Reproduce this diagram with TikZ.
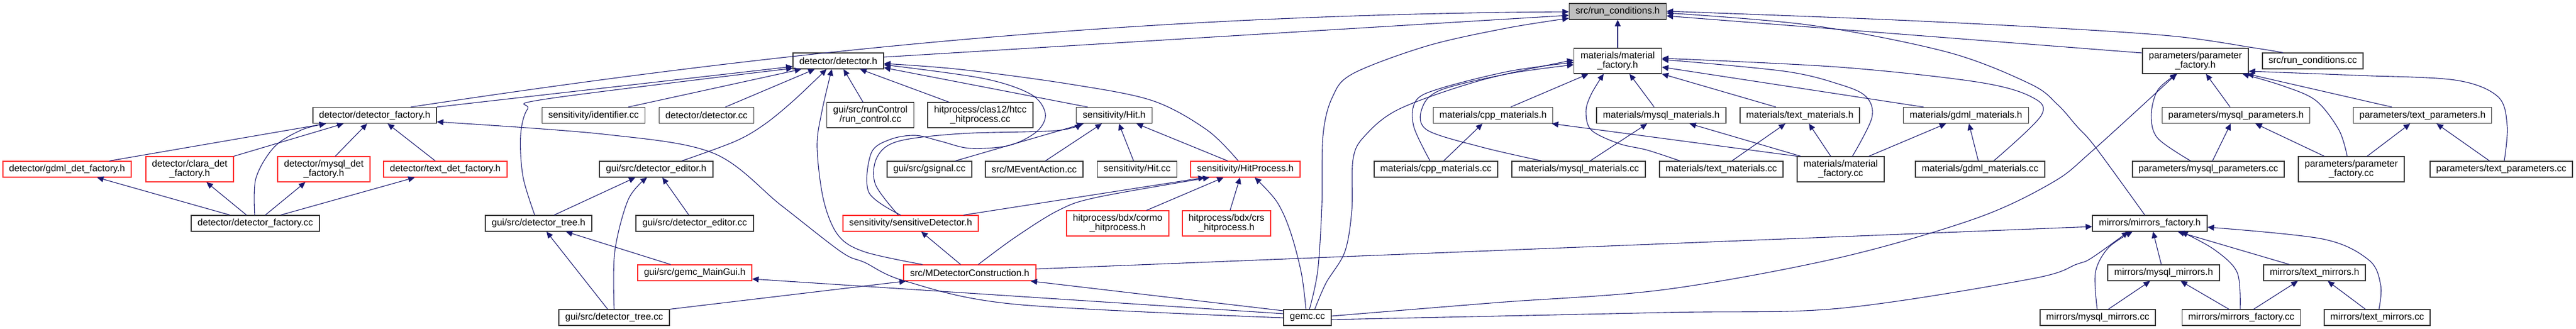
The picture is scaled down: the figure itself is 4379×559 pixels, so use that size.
\documentclass[tikz,border=0pt]{standalone}
\usepackage{fontspec}
\setmainfont{Liberation Sans}
\usetikzlibrary{arrows.meta}
\definecolor{edgeblue}{HTML}{191970}
\definecolor{nodered}{HTML}{FF2A2A}
\definecolor{rootgray}{HTML}{BFBFBF}
\newcommand{\nodefont}{\fontsize{16}{16}\selectfont}
\tikzset{
  nd/.style={draw=black!78, line width=1.2pt, fill=white, inner sep=0pt, minimum height=27pt, align=center, font=\nodefont},
  rd/.style={nd, draw=nodered},
  gr/.style={nd, fill=rootgray},
  two/.style={minimum height=43pt},
  edge/.style={draw=edgeblue, line width=1.1pt, -{Triangle[length=11pt,width=10pt]}},
  every plot/.style={smooth, tension=0.55}
}
\begin{document}
\begin{tikzpicture}[x=1pt,y=-1pt]
\useasboundingbox (0,0) rectangle (4379,559);
% row 1
\node[gr, minimum width=165pt] (rch) at (2750,19.5) {src/run\_conditions.h};
% row 2
\node[nd, minimum width=154pt] (deth) at (1425,103.5) {detector/detector.h};
\node[nd, two, minimum width=149pt] (matfh) at (2750,103.5) {materials/material\\\_factory.h};
\node[nd, two, minimum width=180pt] (parfh) at (3732,103.5) {parameters/parameter\\\_factory.h};
\node[nd, minimum width=171pt] (rccc) at (3931.5,103.5) {src/run\_conditions.cc};
% row 3
\node[nd, minimum width=210pt] (detfh) at (637,196) {detector/detector\_factory.h};
\node[nd, minimum width=175pt] (ident) at (1009,196) {sensitivity/identifier.cc};
\node[nd, minimum width=161pt] (detcc) at (1201,196) {detector/detector.cc};
\node[nd, two, minimum width=148pt] (runctl) at (1479.6,195.5) {gui/src/runControl\\/run\_control.cc};
\node[nd, two, minimum width=179pt] (htcc) at (1666.5,195.5) {hitprocess/clas12/htcc\\\_hitprocess.cc};
\node[nd, minimum width=129pt] (hith) at (1894,196) {sensitivity/Hit.h};
\node[nd, minimum width=203pt] (cpph) at (2538,196) {materials/cpp\_materials.h};
\node[nd, minimum width=220pt] (mysqlh) at (2824,196) {materials/mysql\_materials.h};
\node[nd, minimum width=203pt] (texth) at (3059.5,196) {materials/text\_materials.h};
\node[nd, minimum width=213pt] (gdmlh) at (3342,196) {materials/gdml\_materials.h};
\node[nd, minimum width=251pt] (mparh) at (3801,196) {parameters/mysql\_parameters.h};
\node[nd, minimum width=235pt] (tparh) at (4118,196) {parameters/text\_parameters.h};
% row 4
\node[rd, minimum width=218pt] (gdmldf) at (114,287.5) {detector/gdml\_det\_factory.h};
\node[rd, two, minimum width=149pt] (claradf) at (322.5,287.5) {detector/clara\_det\\\_factory.h};
\node[rd, two, minimum width=157pt] (mysqldf) at (550.5,287.5) {detector/mysql\_det\\\_factory.h};
\node[rd, minimum width=210pt] (textdf) at (757,287.5) {detector/text\_det\_factory.h};
\node[nd, minimum width=193pt] (edith) at (1115.5,287.5) {gui/src/detector\_editor.h};
\node[nd, minimum width=144pt] (gsig) at (1580,287.5) {gui/src/gsignal.cc};
\node[nd, minimum width=166pt] (mevt) at (1758,287.5) {src/MEventAction.cc};
\node[nd, minimum width=135pt] (hitcc) at (1933,287.5) {sensitivity/Hit.cc};
\node[rd, minimum width=186pt] (hph) at (2117,287.5) {sensitivity/HitProcess.h};
\node[nd, minimum width=210pt] (cppcc) at (2441,287.5) {materials/cpp\_materials.cc};
\node[nd, minimum width=227pt] (mysqlcc) at (2683.5,287.5) {materials/mysql\_materials.cc};
\node[nd, minimum width=210pt] (textcc) at (2926,287.5) {materials/text\_materials.cc};
\node[nd, two, minimum width=148pt] (matfcc) at (3129,287.5) {materials/material\\\_factory.cc};
\node[nd, minimum width=220pt] (gdmlcc) at (3366,287.5) {materials/gdml\_materials.cc};
\node[nd, minimum width=258pt] (mparcc) at (3754,287.5) {parameters/mysql\_parameters.cc};
\node[nd, two, minimum width=180pt] (parfcc) at (3997,287.5) {parameters/parameter\\\_factory.cc};
\node[nd, minimum width=242pt] (tparcc) at (4252,287.5) {parameters/text\_parameters.cc};
% row 5
\node[nd, minimum width=218pt] (detfcc) at (434,379.5) {detector/detector\_factory.cc};
\node[nd, minimum width=181pt] (treeh) at (915.5,379.5) {gui/src/detector\_tree.h};
\node[nd, minimum width=200pt] (editcc) at (1181,379.5) {gui/src/detector\_editor.cc};
\node[rd, minimum width=230pt] (sdh) at (1548,379.5) {sensitivity/sensitiveDetector.h};
\node[rd, two, minimum width=174pt] (cormo) at (1900,379.5) {hitprocess/bdx/cormo\\\_hitprocess.h};
\node[rd, two, minimum width=150pt] (crs) at (2085,379.5) {hitprocess/bdx/crs\\\_hitprocess.h};
\node[nd, minimum width=195pt] (mirfh) at (3654.5,379.5) {mirrors/mirrors\_factory.h};
% row 6
\node[rd, minimum width=194pt] (guih) at (1181,463.5) {gui/src/gemc\_MainGui.h};
\node[rd, minimum width=225pt] (mdch) at (1648.5,463.5) {src/MDetectorConstruction.h};
\node[nd, minimum width=190pt] (mmirh) at (3678,463.5) {mirrors/mysql\_mirrors.h};
\node[nd, minimum width=173pt] (tmirh) at (3934.5,463.5) {mirrors/text\_mirrors.h};
% row 7
\node[nd, minimum width=188pt] (treecc) at (1044,539.5) {gui/src/detector\_tree.cc};
\node[nd, minimum width=81pt] (gemc) at (2222.5,539.5) {gemc.cc};
\node[nd, minimum width=196pt] (mmircc) at (3566,539.5) {mirrors/mysql\_mirrors.cc};
\node[nd, minimum width=201pt] (mircc) at (3810,539.5) {mirrors/mirrors\_factory.cc};
\node[nd, minimum width=180pt] (tmircc) at (4041,539.5) {mirrors/text\_mirrors.cc};

% ---- edges into run_conditions.h
\draw[edge] (698,0 |- detfh.north) .. controls (1300,91) and (1900,25) .. (rch.west |- 0,20);
\draw[edge] (deth.east |- 0,97) -- (rch.west |- 0,26);
\draw[edge] plot coordinates {(2226,0 |- gemc.north) (2240,460) (2247,350) (2249,230) (2265,165) (2300,125) (2426,78) (2560,48) (rch.west |- 0,31)};
\draw[edge] (matfh.north) -- (rch.south);
\draw[edge] plot coordinates {(3881,0 |- rccc.north) (3836,82) (3700,62) (3500,48) (3200,33) (rch.east |- 0,19)};
\draw[edge] (parfh.west |- 0,90) -- (rch.east |- 0,27);
\draw[edge] plot coordinates {(3646,0 |- mirfh.north) (3562,250) (3530,214) (3498,178) (3452,143) (3312,89) (3079,43) (rch.east |- 0,22)};

% ---- edges into detector.h
\draw[edge] (detfh.north east) -- (deth.west |- 0,113);
\draw[edge] plot coordinates {(909,0 |- treeh.north) (889,300) (885,230) (897,185) (930,168) (deth.west |- 0,116)};
\draw[edge] (1068,0 |- ident.north) -- (1362,0 |- deth.south);
\draw[edge] (1233,0 |- detcc.north) -- (1385,0 |- deth.south);
\draw[edge] plot coordinates {(1159,0 |- edith.north) (1250,240) (1300,211) (1350,170) (1405,0 |- deth.south)};
\draw[edge] plot coordinates {(1568,0 |- mdch.north) (1470,428) (1425,400) (1400,340) (1389,250) (1397,190) (1414,0 |- deth.south)};
\draw[edge] (1467,0 |- runctl.north) -- (1434,0 |- deth.south);
\draw[edge] (1613,0 |- htcc.north) -- (1462,0 |- deth.south);
\draw[edge] (1849,0 |- hith.north) -- (deth.east |- 0,115);
\draw[edge] plot coordinates {(2105,0 |- hph.north) (2052,221) (1959,171) (1819,143) (1633,118) (deth.east |- 0,108)};
\draw[edge] plot coordinates {(1531,0 |- sdh.north) (1477,327) (1481,260) (1513,237) (1556,230) (1599,240) (1649,252) (1716,247) (1763,223) (1777,193) (1752,160) (1670,133) (deth.east |- 0,110)};

% ---- detector factory group
\draw[edge] (186,0 |- gdmldf.north) -- (554,0 |- detfh.south);
\draw[edge] (claradf.north east) -- (584,0 |- detfh.south);
\draw[edge] plot coordinates {(433,0 |- detfcc.north) (435,303) (466,250) (512,221) (554,0 |- detfh.south)};
\draw[edge] (570,0 |- mysqldf.north) -- (624,0 |- detfh.south);
\draw[edge] (740,0 |- textdf.north) -- (659,0 |- detfh.south);
\draw[edge] (391,0 |- detfcc.north) -- (165,0 |- gdmldf.south);
\draw[edge] (419,0 |- detfcc.north) -- (351,0 |- claradf.south);
\draw[edge] (451,0 |- detfcc.north) -- (519,0 |- mysqldf.south);
\draw[edge] (477,0 |- detfcc.north) -- (705,0 |- textdf.south);

% ---- gui group
\draw[edge] (942,0 |- treeh.north) -- (1080,0 |- edith.south);
\draw[edge] plot coordinates {(1044,0 |- treecc.north) (1045,428) (1068,339) (1100,0 |- edith.south)};
\draw[edge] (1171,0 |- editcc.north) -- (1126,0 |- edith.south);
\draw[edge] (1033,0 |- treecc.north) -- (929,0 |- treeh.south);
\draw[edge] (1140,0 |- guih.north) -- (962,0 |- treeh.south);
\draw[edge] (gemc.west |- 0,533) -- (guih.east |- 0,474);
\draw[edge] (treecc.north east) -- (1540,0 |- mdch.south);
\draw[edge] plot coordinates {(gemc.west |- 0,540) (1726,517) (1540,478) (1470,446) (1430,428) (1328,349) (1212,260) (1026,228) (detfh.east |- 0,207)};
\draw[edge] (gemc.west |- 0,528) -- (1752,0 |- mdch.south);

% ---- MDetectorConstruction / Hit / HitProcess
\draw[edge] (1633,0 |- mdch.north) -- (1566,0 |- sdh.south);
\draw[edge] plot coordinates {(1663,0 |- mdch.north) (1726,403) (1800,357) (1866,335) (2056,0 |- hph.south)};
\draw[edge] (1638,0 |- sdh.north) -- (2048,0 |- hph.south);
\draw[edge] (mdch.east |- 0,457) -- (mirfh.west |- 0,385);
\draw[edge] plot coordinates {(2220,0 |- gemc.north) (2212,463) (2193,392) (2170,342) (2133,0 |- hph.south)};
\draw[edge] (1624,0 |- gsig.north) -- (1842,0 |- hith.south);
\draw[edge] plot coordinates {(1527,0 |- sdh.north) (1488,313) (1491,267) (1527,240) (1634,227) (1795,222) (1838,0 |- hith.south)};
\draw[edge] (1777,0 |- mevt.north) -- (1873,0 |- hith.south);
\draw[edge] (1927,0 |- hitcc.north) -- (1902,0 |- hith.south);
\draw[edge] (2087,0 |- hph.north) -- (1932,0 |- hith.south);
\draw[edge] (1949,0 |- cormo.north) -- (2080,0 |- hph.south);
\draw[edge] (2091,0 |- crs.north) -- (2108,0 |- hph.south);

% ---- gemc.cc long edges
\draw[edge] plot coordinates {(gemc.east |- 0,537) (2546,514) (2830,492) (3126,438) (3359,371) (3489,310) (3556,257) (3700,0 |- parfh.south)};
\draw[edge] plot coordinates {(gemc.east |- 0,543) (2830,531) (3126,524) (3452,474) (3530,449) (3556,438) (3618,0 |- mirfh.south)};
\draw[edge] plot coordinates {(2235,0 |- gemc.north) (2254,481) (2286,428) (2298,357) (2300,271) (2319,232) (2379,185) (2519,136) (matfh.west |- 0,102)};

% ---- materials
\draw[edge] (2568,0 |- cpph.north) -- (2700,0 |- matfh.south);
\draw[edge] (2812,0 |- mysqlh.north) -- (2770,0 |- matfh.south);
\draw[edge] (3019,0 |- texth.north) -- (matfh.south east);
\draw[edge] (3270,0 |- gdmlh.north) -- (matfh.east |- 0,114);
\draw[edge] plot coordinates {(3149,0 |- matfcc.north) (3182,200) (3172,164) (3126,143) (3033,121) (matfh.east |- 0,101)};
\draw[edge] plot coordinates {(3389,0 |- gdmlcc.north) (3470,196) (3452,164) (3359,139) (3126,114) (matfh.east |- 0,99)};
\draw[edge] plot coordinates {(2431,0 |- cppcc.north) (2403,214) (2407,171) (2449,150) (2566,121) (matfh.west |- 0,106)};
\draw[edge] plot coordinates {(2621,0 |- mysqlcc.north) (2519,250) (2426,221) (2417,185) (2449,153) (2566,125) (matfh.west |- 0,110)};
\draw[edge] (2454,0 |- cppcc.north) -- (2520,0 |- cpph.south);
\draw[edge] (2703,0 |- mysqlcc.north) -- (2800,0 |- mysqlh.south);
\draw[edge] plot coordinates {(2856,0 |- textcc.north) (2800,255) (2752,244) (2705,221) (2696,189) (2705,160) (2726,0 |- matfh.south)};
\draw[edge] (2944,0 |- textcc.north) -- (3035,0 |- texth.south);
\draw[edge] (matfcc.north west) -- (2638,0 |- cpph.south);
\draw[edge] (3061,0 |- matfcc.north) -- (2872,0 |- mysqlh.south);
\draw[edge] (3112,0 |- matfcc.north) -- (3075,0 |- texth.south);
\draw[edge] (3177,0 |- matfcc.north) -- (3308,0 |- gdmlh.south);
\draw[edge] (3363,0 |- gdmlcc.north) -- (3347,0 |- gdmlh.south);

% ---- parameters
\draw[edge] (3791,0 |- mparh.north) -- (3750,0 |- parfh.south);
\draw[edge] (4066,0 |- tparh.north) -- (3820,0 |- parfh.south);
\draw[edge] plot coordinates {(3724,0 |- mparcc.north) (3668,235) (3657,196) (3668,153) (3701,0 |- parfh.south)};
\draw[edge] (3761,0 |- mparcc.north) -- (3792,0 |- mparh.south);
\draw[edge] plot coordinates {(3990,0 |- parfcc.north) (3976,221) (3937,171) (3881,146) (3812,0 |- parfh.south)};
\draw[edge] (3951,0 |- parfcc.north) -- (3834,0 |- mparh.south);
\draw[edge] (4024,0 |- parfcc.north) -- (4097,0 |- tparh.south);
\draw[edge] plot coordinates {(4257,0 |- tparcc.north) (4262,214) (4246,164) (4173,136) (4004,128) (parfh.east |- 0,121)};
\draw[edge] (4232,0 |- tparcc.north) -- (4142,0 |- tparh.south);

% ---- mirrors
\draw[edge] (3674,0 |- mmirh.north) -- (3660,0 |- mirfh.south);
\draw[edge] (3892,0 |- tmirh.north) -- (3702,0 |- mirfh.south);
\draw[edge] plot coordinates {(3565,0 |- mmircc.north) (3562,463) (3584,421) (3625,0 |- mirfh.south)};
\draw[edge] (3584,0 |- mmircc.north) -- (3655,0 |- mmirh.south);
\draw[edge] plot coordinates {(3808,0 |- mircc.north) (3803,463) (3764,424) (3708,0 |- mirfh.south)};
\draw[edge] (3789,0 |- mircc.north) -- (3707,0 |- mmirh.south);
\draw[edge] (3831,0 |- mircc.north) -- (3906,0 |- tmirh.south);
\draw[edge] plot coordinates {(4044,0 |- tmircc.north) (4047,485) (4027,442) (3948,406) (mirfh.east |- 0,386)};
\draw[edge] (4021,0 |- tmircc.north) -- (3957,0 |- tmirh.south);
\end{tikzpicture}
\end{document}
